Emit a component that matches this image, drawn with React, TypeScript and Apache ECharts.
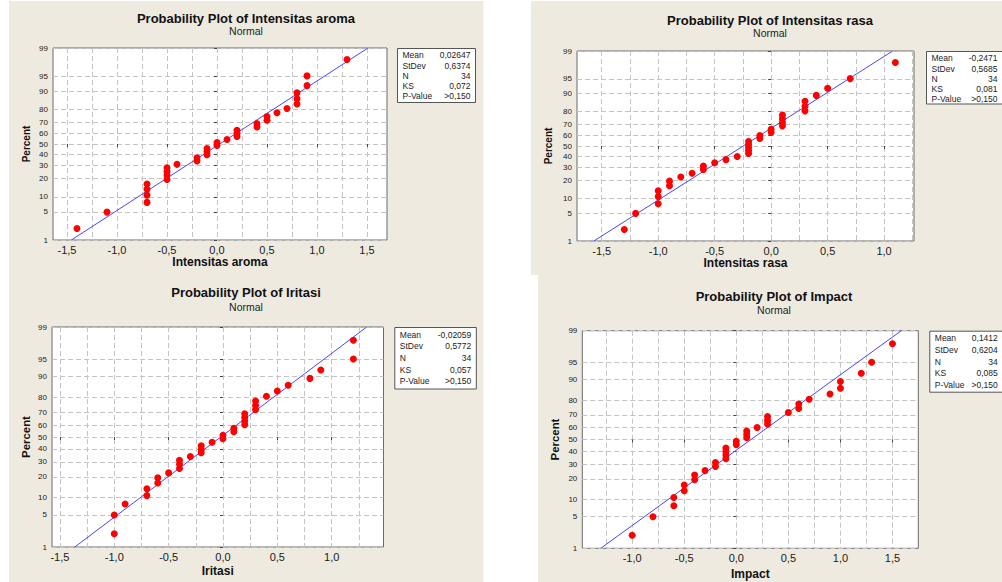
import React, { useEffect, useRef } from 'react';
import * as echarts from 'echarts';

// ---------- data ----------
const percentTicks = [1, 5, 10, 20, 30, 40, 50, 60, 70, 80, 90, 95, 99];
const xTickValues = [-1.5, -1.0, -0.5, 0.0, 0.5, 1.0, 1.5];
const xGridValues = [-1.75, -1.5, -1.25, -1.0, -0.75, -0.5, -0.25, 0, 0.25, 0.5, 0.75, 1.0, 1.25, 1.5, 1.75];
const statLabels = ['Mean', 'StDev', 'N', 'KS', 'P-Value'];

const aromaValues = [-1.4, -1.1, -0.7, -0.7, -0.7, -0.7, -0.5, -0.5, -0.5, -0.5, -0.4, -0.2, -0.2, -0.1, -0.1, -0.1, 0.0, 0.0, 0.1, 0.2, 0.2, 0.2, 0.4, 0.4, 0.5, 0.5, 0.6, 0.7, 0.8, 0.8, 0.8, 0.9, 0.9, 1.3];
const aromaStats = ['0,02647', '0,6374', '34', '0,072', '>0,150'];
const aromaFit = [0.02647, 0.6374];

const rasaValues = [-1.3, -1.2, -1.0, -1.0, -1.0, -0.9, -0.9, -0.8, -0.7, -0.6, -0.6, -0.5, -0.4, -0.3, -0.2, -0.2, -0.2, -0.2, -0.2, -0.1, -0.1, 0.0, 0.0, 0.1, 0.1, 0.1, 0.1, 0.3, 0.3, 0.3, 0.4, 0.5, 0.7, 1.1];
const rasaStats = ['-0,2471', '0,5685', '34', '0,081', '>0,150'];
const rasaFit = [-0.2471, 0.5685];

const iritasiValues = [-1.0, -1.0, -0.9, -0.7, -0.7, -0.6, -0.6, -0.5, -0.4, -0.4, -0.4, -0.3, -0.2, -0.2, -0.2, -0.1, 0.0, 0.0, 0.1, 0.1, 0.2, 0.2, 0.2, 0.2, 0.3, 0.3, 0.3, 0.4, 0.5, 0.6, 0.8, 0.9, 1.2, 1.2];
const iritasiStats = ['-0,02059', '0,5772', '34', '0,057', '>0,150'];
const iritasiFit = [-0.02059, 0.5772];

const impactValues = [-1.0, -0.8, -0.6, -0.6, -0.5, -0.5, -0.4, -0.4, -0.3, -0.2, -0.2, -0.1, -0.1, -0.1, -0.1, 0.0, 0.0, 0.1, 0.1, 0.1, 0.2, 0.3, 0.3, 0.3, 0.5, 0.6, 0.6, 0.7, 0.9, 1.0, 1.0, 1.2, 1.3, 1.5];
const impactStats = ['0,1412', '0,6204', '34', '0,085', '>0,150'];
const impactFit = [0.1412, 0.6204];

// ---------- inverse normal CDF (probability scale) ----------
function probit(p: number): number {
  const a = [-39.69683028665376, 220.9460984245205, -275.9285104469687, 138.357751867269, -30.66479806614716, 2.506628277459239];
  const b = [-54.47609879822406, 161.5858368580409, -155.6989798598866, 66.80131188771972, -13.28068155288572];
  const c = [-0.007784894002430293, -0.3223964580411365, -2.400758277161838, -2.549732539343734, 4.374664141464968, 2.938163982698783];
  const d = [0.007784695709041462, 0.3224671290700398, 2.445134137142996, 3.754408661907416];
  const pl = 0.02425;
  if (p < pl) {
    const q = Math.sqrt(-2 * Math.log(p));
    return (((((c[0] * q + c[1]) * q + c[2]) * q + c[3]) * q + c[4]) * q + c[5]) / ((((d[0] * q + d[1]) * q + d[2]) * q + d[3]) * q + 1);
  }
  if (p > 1 - pl) {
    const q = Math.sqrt(-2 * Math.log(1 - p));
    return -(((((c[0] * q + c[1]) * q + c[2]) * q + c[3]) * q + c[4]) * q + c[5]) / ((((d[0] * q + d[1]) * q + d[2]) * q + d[3]) * q + 1);
  }
  const q = p - 0.5;
  const r = q * q;
  return (((((a[0] * r + a[1]) * r + a[2]) * r + a[3]) * r + a[4]) * r + a[5]) * q / (((((b[0] * r + b[1]) * r + b[2]) * r + b[3]) * r + b[4]) * r + 1);
}

const zTicks = percentTicks.map((p) => probit(p / 100));
const zMin = zTicks[0];
const zMax = zTicks[zTicks.length - 1];

const FONT = "'Liberation Sans', Arial, sans-serif";
const BG = '#eeeae0';

const panels = [
  {
    title: 'Probability Plot of Intensitas aroma', xName: 'Intensitas aroma',
    values: aromaValues, stats: aromaStats, fit: aromaFit,
    grid: { left: 53, top: 48, width: 334, height: 192 }, xMin: -1.64, xMax: 1.70,
    box: { x: 397, y: 48, w: 78, h: 54, row0: 7.3, gap: 10.2 },
    titleX: 246, titleY: 18, subY: 30.7, pctSize: 10, pctGap: 22, xNameGap: 16,
  },
  {
    title: 'Probability Plot of Intensitas rasa', xName: 'Intensitas rasa',
    values: rasaValues, stats: rasaStats, fit: rasaFit,
    grid: { left: 577, top: 51, width: 337, height: 190 }, xMin: -1.719, xMax: 1.265,
    box: { x: 926, y: 51, w: 76, h: 52.5, row0: 7.3, gap: 10.2 },
    titleX: 770, titleY: 20.7, subY: 32.7, pctSize: 10, pctGap: 23.5, xNameGap: 15.5,
  },
  {
    title: 'Probability Plot of Iritasi', xName: 'Iritasi',
    values: iritasiValues, stats: iritasiStats, fit: iritasiFit,
    grid: { left: 52, top: 327, width: 331.5, height: 220 }, xMin: -1.573, xMax: 1.477,
    box: { x: 394.3, y: 327, w: 81.5, h: 61.5, row0: 7.6, gap: 11.7 },
    titleX: 246, titleY: 292.7, subY: 306.7, pctSize: 11.4, pctGap: 20.5, xNameGap: 18,
  },
  {
    title: 'Probability Plot of Impact', xName: 'Impact',
    values: impactValues, stats: impactStats, fit: impactFit,
    grid: { left: 582.3, top: 330.7, width: 336, height: 217.6 }, xMin: -1.479, xMax: 1.748,
    box: { x: 929.3, y: 330.7, w: 73, h: 61, row0: 7.6, gap: 11.7 },
    titleX: 774, titleY: 296, subY: 310, pctSize: 11.4, pctGap: 21.5, xNameGap: 19.5,
  },
];

const fmtX = (v: number) => v.toFixed(1).replace('.', ',');
const fmtY = (v: number) => {
  let best = 0;
  zTicks.forEach((z, i) => { if (Math.abs(z - v) < Math.abs(zTicks[best] - v)) best = i; });
  return String(percentTicks[best]);
};

function buildOption() {
  const grid: any[] = [];
  const xAxis: any[] = [];
  const yAxis: any[] = [];
  const series: any[] = [];
  const graphic: any[] = [
    { type: 'rect', z: -10, silent: true, shape: { x: 9, y: 1, width: 474.5, height: 581 }, style: { fill: BG } },
    { type: 'rect', z: -10, silent: true, shape: { x: 531, y: 1, width: 471, height: 274 }, style: { fill: BG } },
    { type: 'rect', z: -10, silent: true, shape: { x: 538, y: 275, width: 464, height: 307 }, style: { fill: BG } },
  ];

  panels.forEach((p, i) => {
    grid.push({ ...p.grid, show: true, backgroundColor: '#ffffff', borderColor: '#6a6a6a', borderWidth: 1, containLabel: false, z: 0 });
    const ticks = xTickValues.filter((v) => v >= p.xMin && v <= p.xMax);
    const quarter = xGridValues.filter((v) => v > p.xMin && v < p.xMax);
    xAxis.push({
      type: 'value', gridIndex: i, position: 'bottom', min: p.xMin, max: p.xMax,
      axisLine: { show: false },
      axisTick: { show: true, length: 3, customValues: ticks, lineStyle: { color: '#444' } },
      axisLabel: { customValues: ticks, formatter: fmtX, fontSize: 11, fontFamily: FONT, color: '#1a1a1a', margin: 4 },
      splitLine: { show: false },
      name: p.xName, nameLocation: 'middle', nameGap: p.xNameGap,
      nameTextStyle: { fontSize: 12, fontWeight: 'bold', fontFamily: FONT, color: '#111' },
    });
    xAxis.push({
      type: 'value', gridIndex: i, position: 'top', min: p.xMin, max: p.xMax, show: true,
      axisLine: { show: false },
      axisTick: { show: false, customValues: quarter },
      axisLabel: { show: false, customValues: quarter },
      splitLine: { show: true, lineStyle: { color: '#c4c4c4', width: 1, type: [5, 3] } },
    });
    yAxis.push({
      type: 'value', gridIndex: i, min: zMin, max: zMax,
      axisLine: { show: false },
      axisTick: { show: true, length: 3, customValues: zTicks, lineStyle: { color: '#444' } },
      axisLabel: { customValues: zTicks, formatter: fmtY, fontSize: 8, fontFamily: FONT, color: '#1a1a1a', margin: 5 },
      splitLine: { show: true, lineStyle: { color: '#c4c4c4', width: 1, type: [5, 3] } },
      name: 'Percent', nameLocation: 'middle', nameGap: p.pctGap,
      nameTextStyle: { fontSize: p.pctSize, fontWeight: 'bold', fontFamily: FONT, color: '#111' },
    });

    const n = p.values.length;
    const [mean, sd] = p.fit;
    series.push({
      type: 'line', xAxisIndex: i * 2, yAxisIndex: i, symbol: 'none', silent: true, z: 3,
      data: [[mean + sd * zMin, zMin], [mean + sd * zMax, zMax]],
      lineStyle: { color: '#4646ff', width: 1 },
    });
    series.push({
      type: 'scatter', xAxisIndex: i * 2, yAxisIndex: i, symbol: 'circle', symbolSize: 7, z: 4,
      itemStyle: { color: '#ff0000', opacity: 1 },
      data: p.values.map((v, k) => [v, probit((k + 1 - 0.3) / (n + 0.4))]),
    });

    graphic.push({
      type: 'text', x: p.titleX, y: p.titleY, z: 10,
      style: { text: p.title, font: `bold 13px ${FONT}`, fill: '#111', align: 'center', verticalAlign: 'middle', textAlign: 'center', textVerticalAlign: 'middle' },
    });
    graphic.push({
      type: 'text', x: p.titleX, y: p.subY, z: 10,
      style: { text: 'Normal', font: `10.5px ${FONT}`, fill: '#222', align: 'center', verticalAlign: 'middle', textAlign: 'center', textVerticalAlign: 'middle' },
    });
    const b = p.box;
    graphic.push({
      type: 'rect', z: 10, shape: { x: b.x + 0.5, y: b.y + 0.5, width: b.w, height: b.h },
      style: { fill: '#ffffff', stroke: '#555555', lineWidth: 1 },
    });
    statLabels.forEach((lab, r) => {
      const yy = b.y + b.row0 + r * b.gap;
      graphic.push({
        type: 'text', x: b.x + 5.5, y: yy, z: 11,
        style: { text: lab, font: `8.5px ${FONT}`, fill: '#222', align: 'left', verticalAlign: 'middle', textAlign: 'left', textVerticalAlign: 'middle' },
      });
      graphic.push({
        type: 'text', x: b.x + b.w - 4.5, y: yy, z: 11,
        style: { text: p.stats[r], font: `8.5px ${FONT}`, fill: '#222', align: 'right', verticalAlign: 'middle', textAlign: 'right', textVerticalAlign: 'middle' },
      });
    });
  });

  return {
    animation: false,
    backgroundColor: '#ffffff',
    grid, xAxis, yAxis, series, graphic,
  };
}

export default function App() {
  const ref = useRef<HTMLDivElement>(null);
  useEffect(() => {
    if (!ref.current) return;
    const chart = echarts.init(ref.current, undefined, { renderer: 'svg' });
    chart.setOption(buildOption() as any);
    return () => chart.dispose();
  }, []);
  return (
    <div
      ref={ref}
      style={{ position: 'absolute', left: 0, top: 0, width: 1002, height: 582 }}
    />
  );
}
